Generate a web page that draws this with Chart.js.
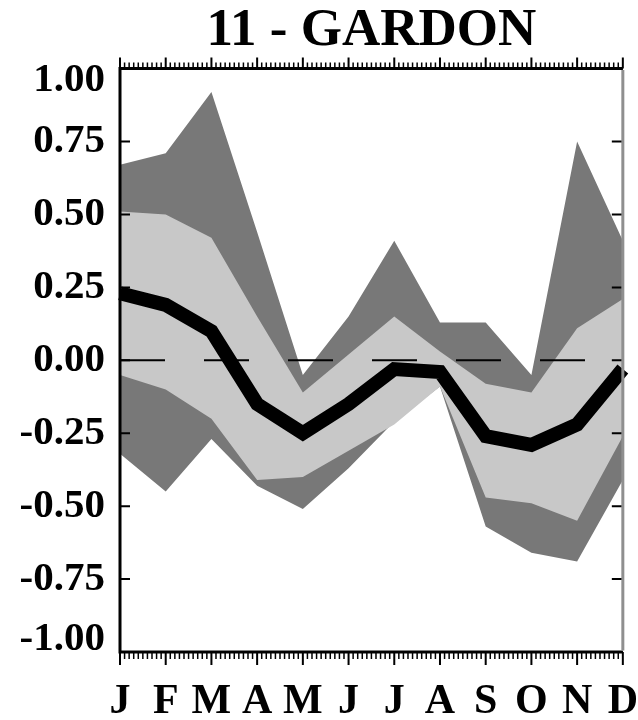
<!DOCTYPE html>
<html><head><meta charset="utf-8">
<script src="https://cdn.jsdelivr.net/npm/chart.js@4.4.1/dist/chart.umd.min.js"></script>
<style>html,body{margin:0;padding:0;background:#fff;} #wrap{width:638px;height:720px;}</style>
</head><body><div id="wrap"><canvas id="c" width="638" height="720"></canvas></div>
<script>
const months = ['J','F','M','A','M','J','J','A','S','O','N','D'];
const yTickValues = [-1, -0.75, -0.5, -0.25, 0, 0.25, 0.5, 0.75, 1];
const yTickLabels = ['-1.00','-0.75','-0.50','-0.25','0.00','0.25','0.50','0.75','1.00'];
const median     = [0.23, 0.19, 0.10, -0.15, -0.25, -0.15, -0.03, -0.04, -0.26, -0.29, -0.22, -0.03];
const lightUpper = [0.51, 0.50, 0.42, 0.15, -0.11, 0.02, 0.15, 0.03, -0.08, -0.11, 0.11, 0.21];
const lightLower = [-0.05, -0.10, -0.20, -0.41, -0.40, -0.31, -0.22, -0.09, -0.47, -0.49, -0.55, -0.26];
const darkUpper  = [0.67, 0.71, 0.92, 0.44, -0.05, 0.15, 0.41, 0.13, 0.13, -0.05, 0.75, 0.41];
const darkLower  = [-0.32, -0.45, -0.27, -0.43, -0.51, -0.37, -0.21, -0.09, -0.57, -0.66, -0.69, -0.41];
const zeroLine   = [0, 0, 0, 0, 0, 0, 0, 0, 0, 0, 0, 0];

const FONT = 'Liberation Serif';
const DARK = '#787878';
const LIGHT = '#c8c8c8';

const framePlugin = {
  id: 'frame',
  afterDraw(chart) {
    const {ctx, chartArea: {left, right, top, bottom}, scales: {x, y}} = chart;
    ctx.save();
    ctx.strokeStyle = '#000';
    ctx.lineCap = 'butt';
    ctx.lineWidth = 2;
    yTickValues.forEach(v => {
      const py = y.getPixelForValue(v);
      ctx.beginPath();
      ctx.moveTo(left, py); ctx.lineTo(left + 10, py);
      ctx.moveTo(right - 11, py); ctx.lineTo(right, py);
      ctx.stroke();
    });
    for (let i = 0; i < months.length; i++) {
      const px = x.getPixelForValue(i);
      ctx.lineWidth = 2;
      ctx.beginPath();
      ctx.moveTo(px, top); ctx.lineTo(px, top - 11);
      ctx.moveTo(px, bottom); ctx.lineTo(px, bottom + 13);
      ctx.stroke();
      if (i < months.length - 1) {
        const nx = x.getPixelForValue(i + 1);
        ctx.lineWidth = 1.5;
        ctx.beginPath();
        for (let k = 1; k < 10; k++) {
          const mx = px + (nx - px) * k / 10;
          ctx.moveTo(mx, top); ctx.lineTo(mx, top - 6);
          ctx.moveTo(mx, bottom); ctx.lineTo(mx, bottom + 7);
        }
        ctx.stroke();
      }
    }
    ctx.lineWidth = 3;
    ctx.beginPath();
    ctx.moveTo(left, top); ctx.lineTo(right, top);
    ctx.moveTo(left, bottom); ctx.lineTo(right, bottom);
    ctx.moveTo(left, top - 1.5); ctx.lineTo(left, bottom + 1.5);
    ctx.stroke();
    ctx.strokeStyle = '#8f8f8f';
    ctx.lineWidth = 3;
    ctx.beginPath();
    ctx.moveTo(right, top + 1.5); ctx.lineTo(right, bottom - 1.5);
    ctx.stroke();
    ctx.fillStyle = '#000';
    ctx.font = 'bold 41px "' + FONT + '"';
    ctx.textAlign = 'right';
    ctx.textBaseline = 'middle';
    yTickValues.forEach((v, i) => {
      let py = y.getPixelForValue(v);
      py = Math.max(top + 12, Math.min(bottom - 13, py));
      ctx.fillText(yTickLabels[i], 105, py);
    });
    ctx.restore();
  }
};

new Chart(document.getElementById('c'), {
  type: 'line',
  data: {
    labels: months,
    datasets: [
      {data: median, borderColor: '#000', borderWidth: 14, pointRadius: 0, fill: false, order: 0, borderCapStyle: 'butt', borderJoinStyle: 'miter'},
      {data: zeroLine, borderColor: '#000', borderWidth: 2, borderDash: [45, 39], pointRadius: 0, fill: false, order: 1},
      {data: lightUpper, borderWidth: 0, borderColor: 'rgba(0,0,0,0)', backgroundColor: LIGHT, pointRadius: 0, fill: '+1', order: 2},
      {data: lightLower, borderWidth: 0, borderColor: 'rgba(0,0,0,0)', pointRadius: 0, fill: false, order: 3},
      {data: darkUpper, borderWidth: 0, borderColor: 'rgba(0,0,0,0)', backgroundColor: DARK, pointRadius: 0, fill: '+1', order: 4},
      {data: darkLower, borderWidth: 0, borderColor: 'rgba(0,0,0,0)', pointRadius: 0, fill: false, order: 5}
    ]
  },
  options: {
    responsive: false,
    animation: false,
    events: [],
    layout: {padding: {left: 120, right: 15, top: 0, bottom: 0}},
    elements: {line: {tension: 0}},
    plugins: {
      legend: {display: false},
      tooltip: {enabled: false},
      title: {
        display: true, text: '11 - GARDON', fullSize: false, color: '#000',
        font: {family: FONT, size: 53, weight: 'bold'},
        padding: {top: 0, bottom: 5}
      }
    },
    scales: {
      x: {
        type: 'category', offset: false,
        grid: {display: true, drawOnChartArea: false, drawTicks: true, tickLength: 25, color: 'rgba(0,0,0,0)'},
        border: {display: false},
        ticks: {color: '#000', font: {family: FONT, size: 42, weight: 'bold'}, padding: 0, autoSkip: false, maxRotation: 0, minRotation: 0},
        afterFit: s => { s.height = 68; }
      },
      y: {
        display: false, min: -1, max: 1
      }
    }
  },
  plugins: [framePlugin]
});
</script>
</body></html>
